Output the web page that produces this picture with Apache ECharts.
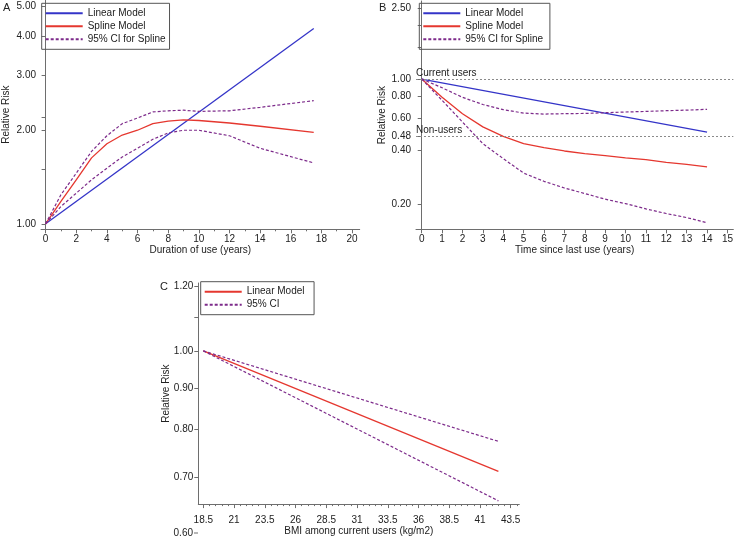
<!DOCTYPE html>
<html>
<head>
<meta charset="utf-8">
<script src="https://cdn.jsdelivr.net/npm/echarts@6/dist/echarts.min.js"></script>
<style>
  html, body { margin: 0; padding: 0; background: #fff; }
  #chart { width: 736px; height: 537px; }
</style>
</head>
<body>
<div id="chart"></div>
<script>
// ---- A: duration of use ----
var durX       = [0, 1, 2, 3, 4, 5, 6, 7, 8, 9, 10, 12, 14, 17.5];
var durSpline  = [1.00, 1.18, 1.385, 1.63, 1.81, 1.93, 2.00, 2.10, 2.14, 2.16, 2.15, 2.11, 2.06, 1.97];
var durUpper   = [1.00, 1.24, 1.455, 1.71, 1.92, 2.10, 2.19, 2.29, 2.31, 2.32, 2.30, 2.31, 2.37, 2.49];
var durLower   = [1.00, 1.137, 1.255, 1.385, 1.51, 1.64, 1.75, 1.87, 1.96, 2.00, 2.00, 1.92, 1.75, 1.57];
var durLinX    = [0, 17.5];
var durLinear  = [1.00, 4.25];

// ---- B: time since last use ----
var lastX      = [0, 1, 2, 3, 4, 5, 6, 7, 8, 9, 10, 11, 12, 13, 14];
var lastSpline = [1.00, 0.79, 0.64, 0.54, 0.478, 0.435, 0.413, 0.396, 0.383, 0.373, 0.362, 0.354, 0.342, 0.333, 0.323];
var lastUpper  = [1.00, 0.894, 0.79, 0.72, 0.674, 0.645, 0.637, 0.64, 0.642, 0.648, 0.654, 0.659, 0.665, 0.67, 0.677];
var lastLower  = [1.00, 0.76, 0.575, 0.435, 0.359, 0.298, 0.268, 0.246, 0.229, 0.213, 0.201, 0.188, 0.177, 0.168, 0.157];
var lastLinX   = [0, 14];
var lastLinear = [1.00, 0.505];
var refLines   = [{ value: 1.00, text: 'Current users' }, { value: 0.48, text: 'Non-users' }];

// ---- C: BMI among current users ----
var bmiX       = [18.5, 42.5];
var bmiLinear  = [1.00, 0.711];
var bmiUpper   = [1.00, 0.774];
var bmiLower   = [1.00, 0.654];

// tick labels
var aYLabels = [1, 2, 3, 4, 5];
var aYTicks  = [1, 1.5, 2, 2.2, 3, 4, 5];
var aXLabels = [0, 2, 4, 6, 8, 10, 12, 14, 16, 18, 20];
var aXMinor  = [1, 3, 5, 7, 9, 11, 13, 15, 17, 19];
var bYLabels = [0.2, 0.4, 0.48, 0.6, 0.8, 1, 2.5];
var bYTicks  = [0.2, 0.4, 0.48, 0.6, 0.8, 1, 1.5, 2, 2.5];
var bXLabels = [0, 1, 2, 3, 4, 5, 6, 7, 8, 9, 10, 11, 12, 13, 14, 15];
var cYLabels = [0.7, 0.8, 0.9, 1, 1.2];
var cYTicks  = [0.7, 0.8, 0.9, 1, 1.1, 1.2];
var cXLabels = [18.5, 21, 23.5, 26, 28.5, 31, 33.5, 36, 38.5, 41, 43.5];
var cXMinor  = [19, 19.5, 20, 20.5, 21.5, 22, 22.5, 23, 24, 24.5, 25, 25.5, 26.5, 27, 27.5, 28,
                29, 29.5, 30, 30.5, 31.5, 32, 32.5, 33, 34, 34.5, 35, 35.5, 36.5, 37, 37.5, 38,
                39, 39.5, 40, 40.5, 41.5, 42, 42.5, 43, 44];

var FONT = '"Liberation Sans", Arial, sans-serif';
var BLUE = '#3434c8', RED = '#e5372f', PURPLE = '#7d2b8b', AXIS = '#6e6e6e', TEXT = '#222';

function pairs(xs, ys) { return xs.map(function (x, i) { return [x, ys[i]]; }); }

var axisLine = { show: true, lineStyle: { color: AXIS, width: 1 } };
var labelStyle = { color: TEXT, fontSize: 10, fontFamily: FONT };

function xMain(grid, min, max, labels, ticks, name, margin, gap) {
  return {
    type: 'value', gridIndex: grid, position: 'bottom', min: min, max: max,
    name: name, nameLocation: 'middle', nameGap: gap || 15,
    nameTextStyle: labelStyle,
    axisLine: axisLine, splitLine: { show: false },
    axisTick: { show: true, length: 4, lineStyle: { color: AXIS }, customValues: ticks },
    axisLabel: Object.assign({ margin: margin || 5, customValues: labels,
      formatter: function (v) { return String(v); } }, labelStyle)
  };
}
function xMinor(grid, min, max, ticks) {
  return {
    type: 'value', gridIndex: grid, position: 'bottom', min: min, max: max,
    axisLine: { show: false }, splitLine: { show: false }, axisLabel: { show: false },
    axisTick: { show: true, length: 2, lineStyle: { color: AXIS }, customValues: ticks }
  };
}
function yLog(grid, min, max, labels, ticks, gap) {
  return {
    type: 'log', gridIndex: grid, min: min, max: max,
    name: 'Relative Risk', nameLocation: 'middle', nameGap: gap, nameMoveOverlap: false,
    nameTextStyle: labelStyle,
    axisLine: axisLine, splitLine: { show: false },
    axisTick: { show: true, length: 4, lineStyle: { color: AXIS }, customValues: ticks },
    axisLabel: Object.assign({ margin: 5, customValues: labels,
      formatter: function (v) { return Number(v).toFixed(2); } }, labelStyle)
  };
}
function line(name, data, color, dashed, xi, yi) {
  return {
    type: 'line', name: name, data: data, xAxisIndex: xi, yAxisIndex: yi,
    symbol: 'none', silent: true, animation: false,
    lineStyle: { color: color, width: dashed ? 1.2 : 1.3, type: dashed ? [3, 2] : 'solid' },
    itemStyle: { color: color }
  };
}
function legend(left, top, names) {
  return {
    orient: 'vertical', left: left, top: top,
    itemWidth: 37, itemHeight: 10, itemGap: 3, padding: [5, 4, 5, 3],
    borderColor: '#555', borderWidth: 1, selectedMode: false,
    itemStyle: { opacity: 0 },
    textStyle: labelStyle,
    data: names
  };
}

var chart = echarts.init(document.getElementById('chart'));
chart.setOption({
  backgroundColor: '#fff',
  animation: false,
  textStyle: { fontFamily: FONT },
  grid: [
    { left: 40.4, top: 0, width: 319.3, height: 229.3 },
    { left: 416, top: 1, width: 320, height: 228.3 },
    { left: 198.3, top: 283, width: 321, height: 223.7 }
  ],
  xAxis: [
    xMain(0, -0.3, 20.5, aXLabels, aXLabels, 'Duration of use (years)'),
    xMinor(0, -0.3, 20.5, aXMinor),
    xMain(1, -0.28, 15.29, bXLabels, bXLabels, 'Time since last use (years)'),
    xMain(2, 18.09, 44.2, cXLabels, cXLabels, 'BMI among current users (kg/m2)', 11, 20),
    xMinor(2, 18.09, 44.2, cXMinor)
  ],
  yAxis: [
    yLog(0, 0.96, 5.25, aYLabels, aYTicks, 30),
    yLog(1, 0.1445, 2.73, bYLabels, bYTicks, 29),
    yLog(2, 0.648, 1.212, cYLabels, cYTicks, 27)
  ],
  legend: [
    legend(41.7, 3.3, ['Linear Model', 'Spline Model', '95% CI for Spline']),
    legend(419.3, 3.3, ['Linear Model ', 'Spline Model ', '95% CI for Spline ']),
    legend(200.7, 281.7, ['Linear Model  ', '95% CI'])
  ],
  series: [
    line('Linear Model', pairs(durLinX, durLinear), BLUE, false, 0, 0),
    line('Spline Model', pairs(durX, durSpline), RED, false, 0, 0),
    line('95% CI for Spline', pairs(durX, durUpper), PURPLE, true, 0, 0),
    line('95% CI for Spline', pairs(durX, durLower), PURPLE, true, 0, 0),

    Object.assign(line('Linear Model ', pairs(lastLinX, lastLinear), BLUE, false, 2, 1), {
      markLine: {
        silent: true, symbol: 'none', animation: false,
        lineStyle: { color: '#8a8a8a', type: [2, 2], width: 1 },
        label: { position: 'insideStartTop', distance: [0, 1], color: TEXT, fontSize: 10, fontFamily: FONT,
          formatter: function (p) { return p.name; } },
        data: refLines.map(function (r) { return { yAxis: r.value, name: r.text }; })
      }
    }),
    line('Spline Model ', pairs(lastX, lastSpline), RED, false, 2, 1),
    line('95% CI for Spline ', pairs(lastX, lastUpper), PURPLE, true, 2, 1),
    line('95% CI for Spline ', pairs(lastX, lastLower), PURPLE, true, 2, 1),

    line('Linear Model  ', pairs(bmiX, bmiLinear), RED, false, 3, 2),
    line('95% CI', pairs(bmiX, bmiUpper), PURPLE, true, 3, 2),
    line('95% CI', pairs(bmiX, bmiLower), PURPLE, true, 3, 2)
  ],
  graphic: [
    { type: 'text', left: 3, top: 2, style: { text: 'A', fontSize: 11, fontFamily: FONT, fill: TEXT } },
    { type: 'text', left: 379, top: 2, style: { text: 'B', fontSize: 11, fontFamily: FONT, fill: TEXT } },
    { type: 'text', left: 160, top: 281, style: { text: 'C', fontSize: 11, fontFamily: FONT, fill: TEXT } },
    // stray 0.60 label drawn below the axis in the source figure
    { type: 'text', x: 193, y: 533, style: { text: '0.60', fontSize: 10, fontFamily: FONT, fill: TEXT,
      align: 'right', verticalAlign: 'middle' } },
    { type: 'line', shape: { x1: 194, y1: 533, x2: 198, y2: 533 }, style: { stroke: AXIS, lineWidth: 1 } }
  ]
});
</script>
</body>
</html>
